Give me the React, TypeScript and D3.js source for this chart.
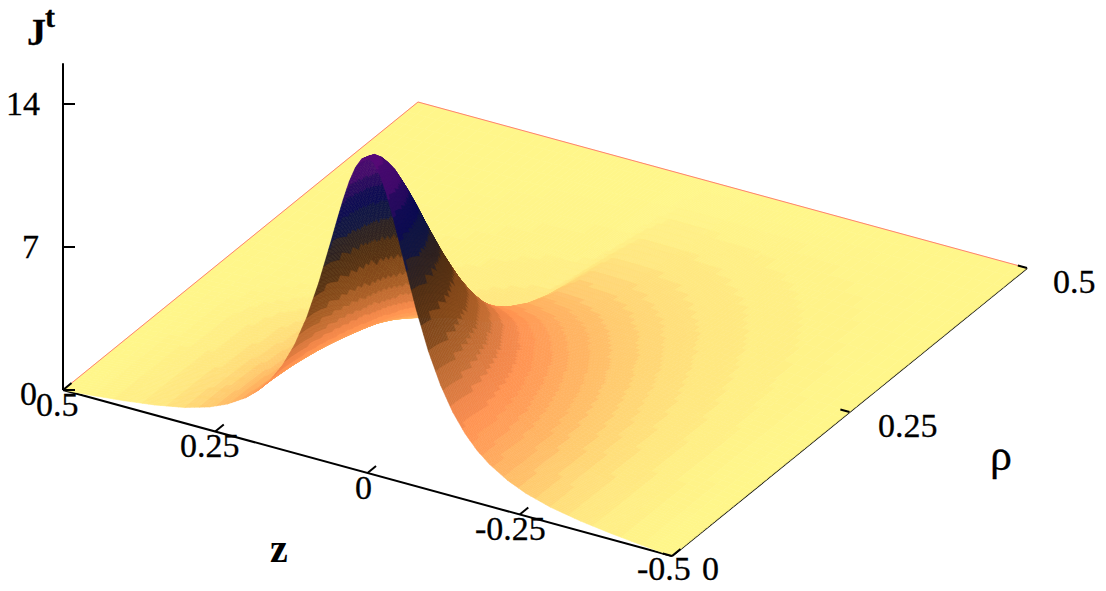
import React from 'react';
import * as d3 from 'd3';

// grid nodes (|z| and rho); J values are estimated from the picture
const gridNodes = [0, .01, .02, .03, .04, .05, .06, .08, .1, .12, .14, .16, .18, .2, .23, .26, .3, .35, .4, .45, .5];

// J at z <= 0 (towards -0.5); one row per rho node, one column per |z| node
const jNegZ = [
  [15.45, 15.28, 14.78, 14.02, 13.05, 11.97, 10.84, 8.66, 6.78, 5.28, 4.12, 3.24, 2.57, 2.06, 1.51, 1.12, .77, .49, .29, .13, 0],
  [15.31, 15.14, 14.65, 13.90, 12.95, 11.88, 10.76, 8.61, 6.75, 5.26, 4.11, 3.23, 2.57, 2.06, 1.51, 1.12, .77, .49, .29, .13, 0],
  [14.89, 14.73, 14.26, 13.54, 12.63, 11.61, 10.53, 8.45, 6.65, 5.19, 4.06, 3.20, 2.55, 2.05, 1.50, 1.12, .77, .49, .29, .13, 0],
  [14.24, 14.09, 13.66, 12.99, 12.14, 11.18, 10.17, 8.20, 6.48, 5.08, 3.99, 3.15, 2.51, 2.02, 1.48, 1.11, .77, .48, .29, .13, 0],
  [13.41, 13.27, 12.88, 12.27, 11.50, 10.62, 9.70, 7.87, 6.26, 4.94, 3.90, 3.09, 2.47, 1.99, 1.47, 1.10, .76, .48, .29, .13, 0],
  [12.45, 12.33, 11.99, 11.45, 10.76, 9.98, 9.14, 7.48, 5.99, 4.76, 3.78, 3.01, 2.42, 1.95, 1.44, 1.08, .75, .48, .28, .13, 0],
  [11.43, 11.33, 11.03, 10.56, 9.96, 9.27, 8.53, 7.05, 5.69, 4.56, 3.64, 2.92, 2.35, 1.91, 1.42, 1.07, .74, .47, .28, .13, 0],
  [9.39, 9.32, 9.11, 8.77, 8.33, 7.82, 7.26, 6.12, 5.04, 4.10, 3.33, 2.70, 2.20, 1.80, 1.35, 1.03, .72, .46, .28, .13, 0],
  [7.56, 7.51, 7.36, 7.12, 6.81, 6.45, 6.05, 5.19, 4.36, 3.62, 2.98, 2.46, 2.03, 1.68, 1.28, .98, .69, .45, .27, .13, 0],
  [6.02, 5.99, 5.89, 5.72, 5.51, 5.26, 4.97, 4.35, 3.73, 3.15, 2.64, 2.21, 1.85, 1.55, 1.19, .92, .66, .43, .26, .12, 0],
  [4.79, 4.77, 4.70, 4.59, 4.44, 4.27, 4.06, 3.62, 3.16, 2.72, 2.32, 1.97, 1.67, 1.41, 1.10, .87, .63, .42, .25, .12, 0],
  [3.83, 3.81, 3.77, 3.69, 3.59, 3.47, 3.32, 3.00, 2.66, 2.33, 2.02, 1.74, 1.49, 1.28, 1.02, .81, .59, .40, .25, .12, 0],
  [3.08, 3.07, 3.04, 2.98, 2.91, 2.83, 2.73, 2.50, 2.24, 1.99, 1.75, 1.53, 1.33, 1.15, .93, .75, .56, .38, .24, .11, 0],
  [2.50, 2.49, 2.47, 2.43, 2.38, 2.32, 2.24, 2.08, 1.89, 1.70, 1.52, 1.34, 1.18, 1.03, .84, .69, .52, .36, .22, .11, 0],
  [1.85, 1.84, 1.83, 1.81, 1.78, 1.74, 1.70, 1.59, 1.47, 1.35, 1.22, 1.09, .98, .87, .73, .60, .46, .32, .21, .10, 0],
  [1.39, 1.39, 1.38, 1.36, 1.35, 1.32, 1.29, 1.23, 1.15, 1.07, .98, .89, .81, .73, .62, .52, .41, .29, .19, .10, 0],
  [.97, .96, .96, .95, .94, .93, .91, .88, .83, .78, .73, .67, .62, .57, .49, .42, .34, .25, .17, .08, 0],
  [.61, .61, .61, .61, .60, .59, .59, .57, .55, .52, .49, .46, .43, .40, .36, .31, .26, .20, .13, .07, 0],
  [.37, .37, .36, .36, .36, .36, .35, .34, .33, .32, .31, .29, .28, .26, .23, .21, .18, .14, .10, .05, 0],
  [.17, .17, .17, .17, .17, .17, .17, .16, .16, .15, .15, .14, .14, .13, .12, .11, .09, .07, .05, .03, 0],
  [0, 0, 0, 0, 0, 0, 0, 0, 0, 0, 0, 0, 0, 0, 0, 0, 0, 0, 0, 0, 0],
];

// J at z >= 0 (towards 0.5), low rho rows are the same as jNegZ
const jPosZ = [
  ...jNegZ.slice(0, 11),
  [3.83, 3.78, 3.65, 3.50, 3.36, 3.25, 3.12, 2.82, 2.50, 2.18, 1.89, 1.63, 1.40, 1.20, .95, .76, .56, .37, .23, .11, 0],
  [3.08, 2.97, 2.72, 2.45, 2.30, 2.23, 2.15, 1.97, 1.77, 1.57, 1.38, 1.21, 1.05, .91, .73, .59, .44, .30, .19, .09, 0],
  [2.50, 2.34, 1.99, 1.63, 1.45, 1.42, 1.37, 1.27, 1.16, 1.04, .93, .82, .72, .63, .52, .42, .32, .22, .14, .07, 0],
  [1.85, 1.68, 1.30, .92, .74, .73, .71, .66, .61, .56, .51, .46, .41, .36, .30, .25, .19, .14, .09, .04, 0],
  [1.39, 1.26, .97, .67, .54, .53, .52, .49, .46, .43, .39, .36, .32, .29, .25, .21, .16, .12, .08, .04, 0],
  [.97, .87, .67, .47, .38, .37, .37, .35, .33, .31, .29, .27, .25, .23, .20, .17, .14, .10, .07, .03, 0],
  [.61, .55, .43, .30, .24, .24, .23, .23, .22, .21, .20, .18, .17, .16, .14, .13, .10, .08, .05, .03, 0],
  [.37, .33, .26, .18, .14, .14, .14, .14, .13, .13, .12, .12, .11, .10, .09, .08, .07, .05, .04, .02, 0],
  [.17, .16, .12, .08, .07, .07, .07, .07, .06, .06, .06, .06, .05, .05, .05, .04, .04, .03, .02, .01, 0],
  [0, 0, 0, 0, 0, 0, 0, 0, 0, 0, 0, 0, 0, 0, 0, 0, 0, 0, 0, 0, 0],
];

const zTicks = [0.5, 0.25, 0, -0.25, -0.5];
const rhoTicks = [0, 0.25, 0.5];
const jTicks = [0, 7, 14];

const colorStops = [0, 0.25, 0.5, 1, 1.5, 2.5, 3.5, 4.3, 5, 6, 7, 8, 9, 10, 11, 12, 13, 14, 15.6];
const colorValues = ['#FFF78B', '#FFF287', '#FFE880', '#FFD272', '#FFBC66', '#FFA058', '#FF9050', '#E88045', '#D0743A', '#B0622A', '#8F4F1E', '#6E3C14', '#4A2C14', '#2E2222', '#141840', '#060C50', '#1E0A5A', '#3E0A6A', '#5A0A78'];
const bandEdges = [0, 0.15, 0.25, 0.4, 0.6, 0.8, 1, 1.3, 1.6, 2, 2.4, 2.9, 3.5, 4.3, 5, 5.8, 6.7, 8, 9.4, 10.6, 11.8, 12.9, 13.7, 15, 16];

const xZ = d3.scaleLinear([0.5, -0.5], [0, 609]);
const yZ = d3.scaleLinear([0.5, -0.5], [0, 166]);
const xR = d3.scaleLinear([0, 0.5], [0, 355]);
const yR = d3.scaleLinear([0, 0.5], [0, -288]);
const yJ = d3.scaleLinear([0, 14], [0, -286]);
const P = (z: number, r: number, j = 0): [number, number] => [63 + xZ(z) + xR(r), 390 + yZ(z) + yR(r) + yJ(j)];

const color = d3.scaleLinear<string>().domain(colorStops).range(colorValues).interpolate(d3.interpolateRgb);
const fillOf = (j: number) => {
  const i = Math.max(0, d3.bisectRight(bandEdges, j) - 1);
  const mid = (bandEdges[i] + bandEdges[i + 1]) / 2;
  return color(0.8 * mid + 0.2 * j);
};

const n = gridNodes.length;
// column index runs from z = +0.5 (far left) to z = -0.5 (near right)
const zAxisNodes = [...gridNodes.slice(1).reverse(), ...gridNodes.map(v => -v)];
const cellJ = (c: number, r: number) => (c < n - 1 ? jPosZ[r][n - 1 - c] : jNegZ[r][c - (n - 1)]);

export default function App() {
  const polys: React.ReactElement[] = [];
  for (let ri = n - 2; ri >= 0; ri--) {
    for (let ci = 0; ci < zAxisNodes.length - 1; ci++) {
      const z0 = zAxisNodes[ci], z1 = zAxisNodes[ci + 1], r0 = gridNodes[ri], r1 = gridNodes[ri + 1];
      const j00 = cellJ(ci, ri), j10 = cellJ(ci + 1, ri), j11 = cellJ(ci + 1, ri + 1), j01 = cellJ(ci, ri + 1);
      const m = Math.max(j00, j10, j11, j01) > 0.3 ? 5 : 3;
      const g = (s: number, t: number) => j00 * (1 - s) * (1 - t) + j10 * s * (1 - t) + j11 * s * t + j01 * (1 - s) * t;
      for (let a = m - 1; a >= 0; a--) for (let b = 0; b < m; b++) {
        const corners = [[b / m, a / m], [(b + 1) / m, a / m], [(b + 1) / m, (a + 1) / m], [b / m, (a + 1) / m]];
        const js = corners.map(c => g(c[0], c[1]));
        const pts = corners.map((c, k) => P(z0 + (z1 - z0) * c[0], r0 + (r1 - r0) * c[1], js[k]).join(',')).join(' ');
        const fill = fillOf(d3.mean(js)!);
        polys.push(<polygon key={`${ri}-${ci}-${a}-${b}`} points={pts} fill={fill} stroke={fill} strokeWidth={0.6} />);
      }
    }
  }
  const line = (a: [number, number], b: [number, number], w = 2) => <line x1={a[0]} y1={a[1]} x2={b[0]} y2={b[1]} stroke="#000" strokeWidth={w} />;
  const txt = (s: string, x: number, y: number, size = 34, extra: any = {}) => <text x={x} y={y} fontSize={size} stroke="#000" strokeWidth={0.3} {...extra}>{s}</text>;
  const jTick = (v: number) => { const p = P(0.5, 0, v); return line(p, [p[0] + 12, p[1]]); };
  return (
    <svg width={1106} height={591} style={{ position: 'fixed', left: 0, top: 0, background: '#fff' }} fontFamily="'Liberation Serif'">
      {line(P(0.5, 0), P(0.5, 0, 16))}
      {line(P(0.5, 0), P(-0.5, 0))}
      {line(P(-0.5, 0), P(-0.5, 0.5))}
      {polys}
      <polyline points={[P(0.5, 0), P(0.5, 0.5), P(-0.5, 0.5)].map(p => p.join(',')).join(' ')} fill="none" stroke="#FF8070" strokeWidth={1} />
      {jTicks.map(v => <g key={v}>{jTick(v)}</g>)}
      {zTicks.map(v => <g key={v}>{line(P(v, 0), P(v, 0.012))}</g>)}
      {rhoTicks.map(v => <g key={v}>{line(P(-0.5, v), P(-0.485, v))}</g>)}
      {txt('14', 6, 115)}{txt('7', 22, 258)}{txt('0', 20, 405)}
      {txt('0.5', 36, 416)}{txt('0.25', 180, 457)}{txt('0', 355, 499)}{txt('-0.25', 475, 540)}{txt('-0.5', 637, 580)}
      {txt('0', 702, 580)}{txt('0.25', 878, 437)}{txt('0.5', 1053, 293)}
      {txt('J', 27, 45, 38, { fontWeight: 'bold' })}{txt('t', 45, 27, 30, { fontWeight: 'bold' })}
      {txt('z', 270, 562, 40, { fontWeight: 'bold', stroke: 'none' })}{txt('\u03C1', 990, 470, 44)}
    </svg>
  );
}
